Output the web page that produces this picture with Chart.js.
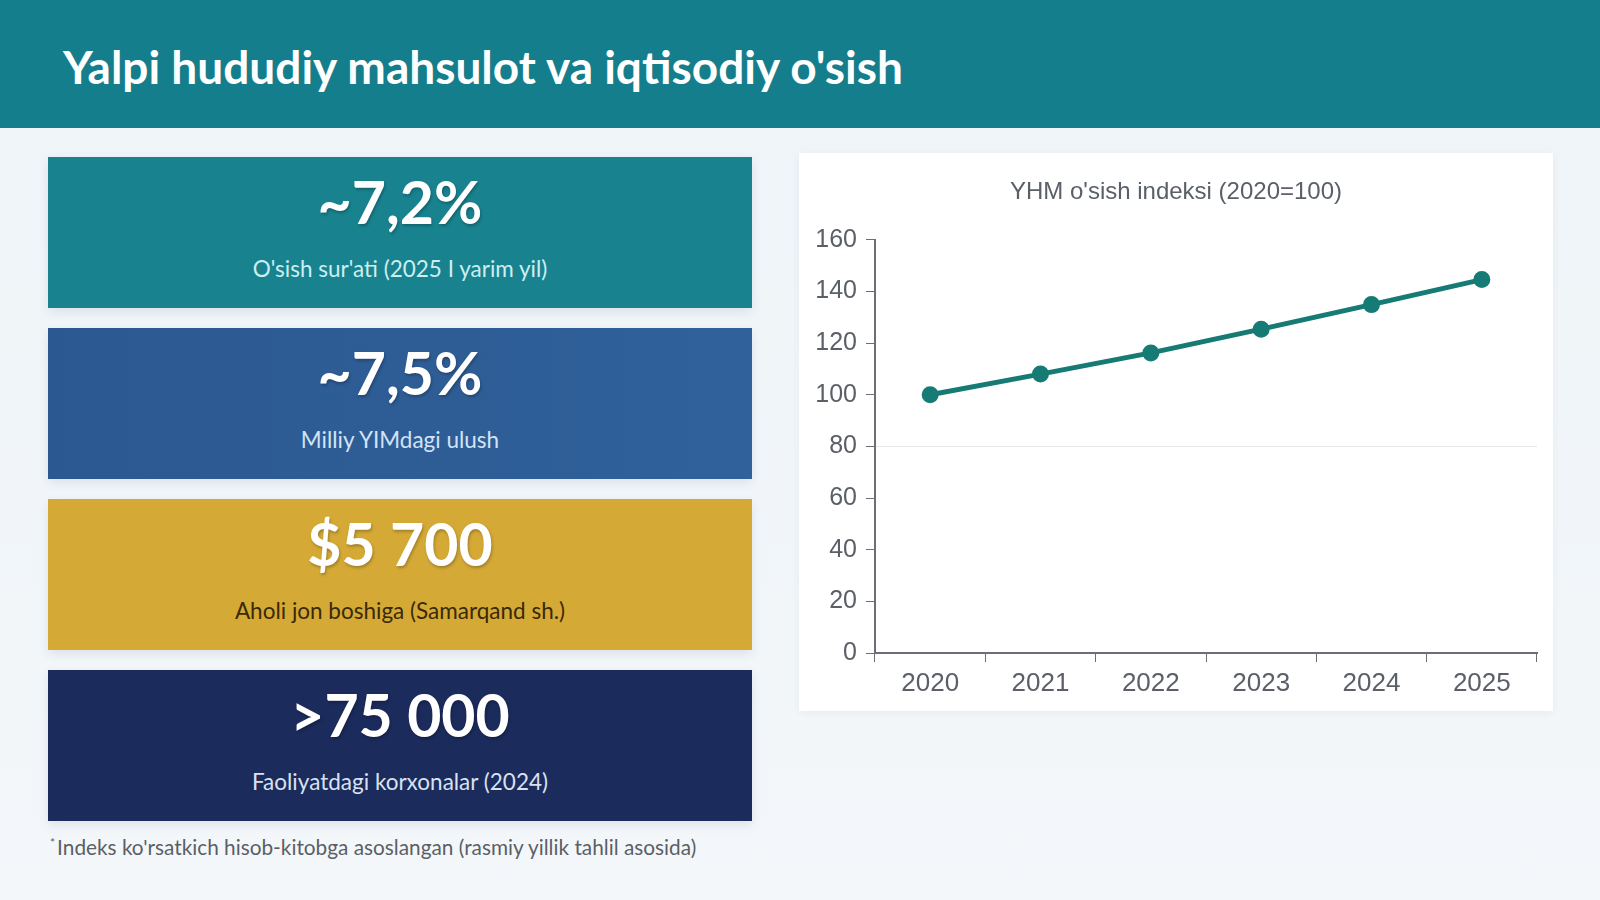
<!DOCTYPE html>
<html lang="uz">
<head>
<meta charset="utf-8">
<title>Yalpi hududiy mahsulot</title>
<script src="https://cdn.jsdelivr.net/npm/chart.js@4.4.1/dist/chart.umd.min.js"></script>
<style>
  html, body { margin: 0; padding: 0; }
  body {
    width: 1600px; height: 900px; overflow: hidden; position: relative;
    background: linear-gradient(180deg, #eef4f8 0%, #f4f7fa 100%);
    font-family: Lato, "Open Sans", sans-serif;
  }
  .header {
    position: absolute; left: 0; top: 0; width: 1600px; height: 128px;
    background: #147e8c;
  }
  .header h1 {
    margin: 0; position: absolute; left: 63px; top: 39px;
    font-size: 46px; font-weight: 700; color: #ffffff; line-height: 1.2;
  }
  .card {
    position: absolute; left: 48px; width: 704px; height: 151px;
    box-shadow: 0 4px 10px rgba(30, 60, 90, 0.10);
    text-align: center;
  }
  .card .num {
    position: absolute; left: 0; right: 0; top: 15px;
    font-size: 59px; font-weight: 700; color: #ffffff; line-height: 1;
    text-shadow: 1px 2px 3px rgba(0, 0, 0, 0.25);
  }
  .card .lbl {
    position: absolute; left: 0; right: 0; top: 101px;
    font-size: 22.5px; line-height: 1;
  }
  .c1 { top: 157px; background: #18838f; }
  .c2 { top: 328px; background: linear-gradient(90deg, #2c5891 0%, #30619a 100%); }
  .c3 { top: 499px; background: #d5a935; }
  .c4 { top: 670px; background: #1b2b5c; }
  .c1 .lbl { color: #cdeef1; }
  .c2 .lbl { color: #d3e3f6; }
  .c3 .lbl { color: #3a2906; }
  .c4 .lbl { color: #d9e1f1; }
  .note {
    position: absolute; left: 50px; top: 834px;
    font-size: 20.8px; color: #5a5f66;
  }
  .note sup { font-size: 12px; margin-right: 2px; }
  .panel {
    position: absolute; left: 799px; top: 153px; width: 754px; height: 558px;
    background: #ffffff;
    box-shadow: 0 2px 8px rgba(30, 60, 90, 0.06);
  }
  .panel canvas { position: absolute; left: 0; top: 0; }
</style>
</head>
<body>
<div class="header"><h1>Yalpi hududiy mahsulot va iqtisodiy o'sish</h1></div>

<div class="card c1"><div class="num">~7,2%</div><div class="lbl">O'sish sur'ati (2025 I yarim yil)</div></div>
<div class="card c2"><div class="num">~7,5%</div><div class="lbl">Milliy YIMdagi ulush</div></div>
<div class="card c3"><div class="num">$5 700</div><div class="lbl">Aholi jon boshiga (Samarqand sh.)</div></div>
<div class="card c4"><div class="num">&gt;75 000</div><div class="lbl">Faoliyatdagi korxonalar (2024)</div></div>

<div class="note"><sup>*</sup>Indeks ko'rsatkich hisob-kitobga asoslangan (rasmiy yillik tahlil asosida)</div>

<div class="panel"><canvas id="gdpChart" width="754" height="558"></canvas></div>

<script>
// GDP growth index, 2020 = 100
const years = ['2020', '2021', '2022', '2023', '2024', '2025'];
const indexValues = [100, 108, 116.2, 125.4, 134.9, 144.6];
const yTicks = [0, 20, 40, 60, 80, 100, 120, 140, 160];
const chartTitle = "YHM o'sish indeksi (2020=100)";

function initChart() {
  Chart.defaults.font.family = "'Liberation Sans', Arial, sans-serif";
  Chart.defaults.color = '#5b6068';

  const ctx = document.getElementById('gdpChart').getContext('2d');
  new Chart(ctx, {
    type: 'line',
    data: {
      labels: years,
      datasets: [{
        label: 'YHM indeksi',
        data: indexValues,
        borderColor: '#167b75',
        backgroundColor: '#167b75',
        borderWidth: 5,
        pointRadius: 6,
        pointHoverRadius: 6,
        tension: 0
      }]
    },
    options: {
      responsive: false,
      animation: false,
      // equal side padding keeps the title centred on the panel
      layout: { padding: { left: 16, right: 16, top: 0, bottom: 0 } },
      plugins: {
        legend: { display: false },
        tooltip: { enabled: false },
        title: {
          display: true,
          text: chartTitle,
          color: '#5b6068',
          font: { size: 24, weight: 'normal' },
          padding: { top: 25, bottom: 33 }
        }
      },
      scales: {
        x: {
          offset: true,
          grid: { offset: true, drawOnChartArea: false, tickLength: 9, tickColor: '#6b6f75' },
          border: { color: '#6b6f75', width: 2 },
          ticks: { font: { size: 26 }, padding: 6, color: '#5b6068' },
          afterFit: (scale) => { scale.height = 58; }
        },
        y: {
          min: 0,
          max: 160,
          afterBuildTicks: (scale) => { scale.ticks = yTicks.map(v => ({ value: v })); },
          grid: {
            color: (c) => (c.tick && c.tick.value === 80 ? '#e6e6e6' : 'rgba(0,0,0,0)'),
            tickLength: 9,
            tickColor: '#6b6f75'
          },
          border: { color: '#6b6f75', width: 2 },
          ticks: { font: { size: 25 }, padding: 9, color: '#5b6068' },
          afterFit: (scale) => { scale.width = 60; }
        }
      }
    }
  });
}

document.addEventListener('DOMContentLoaded', initChart);
</script>
</body>
</html>
